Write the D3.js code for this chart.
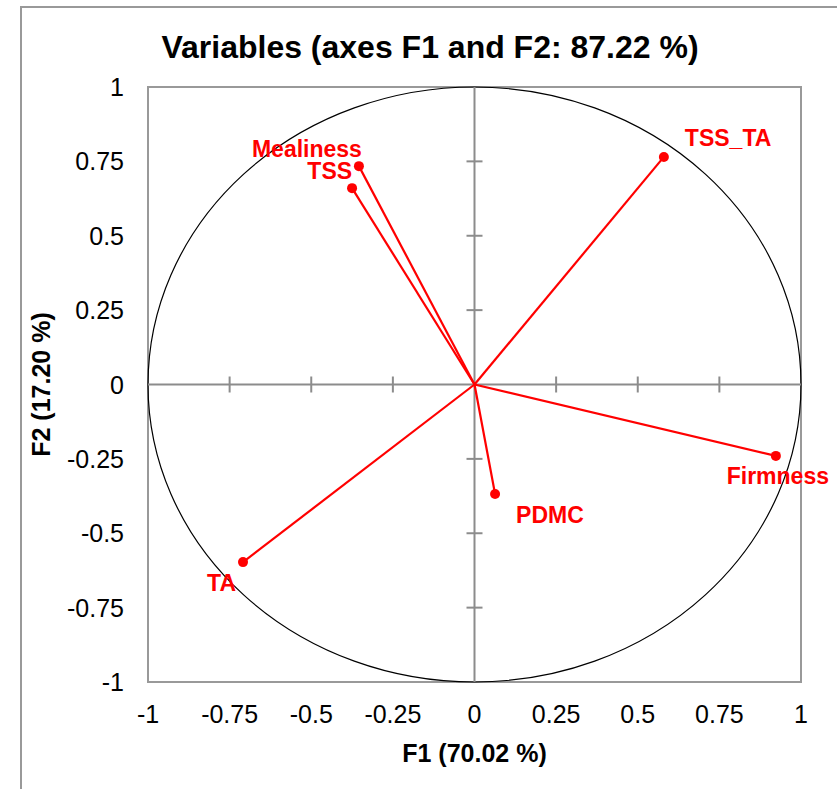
<!DOCTYPE html>
<html>
<head>
<meta charset="utf-8">
<script src="https://cdn.jsdelivr.net/npm/d3@7"></script>
<style>
  body { margin: 0; background: #fff; }
  svg { display: block; font-family: "Liberation Sans", Arial, sans-serif; }
  .frame { fill: none; stroke: #999; stroke-width: 2; }
  .axis-line { stroke: #8c8c8c; stroke-width: 2; }
  .circle { fill: none; stroke: #000; stroke-width: 1.2; }
  .vec { stroke: #ff0000; stroke-width: 2.2; }
  .pt { fill: #ff0000; }
  .lbl { fill: #ff0000; font-weight: bold; font-size: 23px; }
  .tick { font-size: 25px; fill: #000; }
</style>
</head>
<body>
<div id="chart"></div>
<script>
const variables = ["Mealiness", "TSS", "TSS_TA", "Firmness", "PDMC", "TA"]
const f1 = [-0.354, -0.375, 0.580, 0.923, 0.063, -0.709]
const f2 = [0.734, 0.660, 0.765, -0.240, -0.368, -0.597]
const tickValues = [-1, -0.75, -0.5, -0.25, 0, 0.25, 0.5, 0.75, 1]

const titleText = "Variables (axes F1 and F2: 87.22 %)"
const xTitle = "F1 (70.02 %)"
const yTitle = "F2 (17.20 %)"

// label placement relative to each point (pixels)
const labelPos = {
  Mealiness: { dx: 3, dy: -9, anchor: "end" },
  TSS: { dx: 0, dy: -9, anchor: "end" },
  TSS_TA: { dx: 21, dy: -11, anchor: "start" },
  Firmness: { dx: 2, dy: 28, anchor: "middle" },
  PDMC: { dx: 21, dy: 29, anchor: "start" },
  TA: { dx: -7, dy: 29, anchor: "end" }
}

const W = 837, H = 789
const margin = { top: 87, right: 36, bottom: 107, left: 148 }
const width = W - margin.left - margin.right
const height = H - margin.top - margin.bottom

const x = d3.scaleLinear().domain([-1, 1]).range([0, width])
const y = d3.scaleLinear().domain([-1, 1]).range([height, 0])

const data = variables.map((name, i) => ({ name, f1: f1[i], f2: f2[i] }))

const root = d3.select("#chart").append("svg")
  .attr("width", W)
  .attr("height", H)

root.append("rect").attr("width", W).attr("height", H).attr("fill", "#fff")

// outer chart frame
root.append("path")
  .attr("class", "frame")
  .attr("d", "M21," + H + "V7H" + W)

root.append("text")
  .attr("x", 430)
  .attr("y", 58)
  .attr("text-anchor", "middle")
  .style("font-size", "32px")
  .style("font-weight", "bold")
  .text(titleText)

const svg = root.append("g")
  .attr("transform", "translate(" + margin.left + "," + margin.top + ")")

// plot border
svg.append("rect")
  .attr("class", "frame")
  .attr("width", width)
  .attr("height", height)

// correlation circle
svg.append("ellipse")
  .attr("class", "circle")
  .attr("cx", x(0))
  .attr("cy", y(0))
  .attr("rx", x(1) - x(0))
  .attr("ry", y(0) - y(1))

// central axes
svg.append("line").attr("class", "axis-line")
  .attr("x1", 0).attr("x2", width).attr("y1", y(0)).attr("y2", y(0))
svg.append("line").attr("class", "axis-line")
  .attr("x1", x(0)).attr("x2", x(0)).attr("y1", 0).attr("y2", height)

const inner = tickValues.filter(v => v !== 0 && Math.abs(v) !== 1)
svg.selectAll(".xt").data(inner).join("line")
  .attr("class", "axis-line xt")
  .attr("x1", d => x(d)).attr("x2", d => x(d))
  .attr("y1", y(0) - 8).attr("y2", y(0) + 8)
svg.selectAll(".yt").data(inner).join("line")
  .attr("class", "axis-line yt")
  .attr("y1", d => y(d)).attr("y2", d => y(d))
  .attr("x1", x(0) - 8).attr("x2", x(0) + 8)

// tick labels
svg.selectAll(".xl").data(tickValues).join("text")
  .attr("class", "tick xl")
  .attr("x", d => x(d))
  .attr("y", height + 41)
  .attr("text-anchor", "middle")
  .text(d => String(d))
svg.selectAll(".yl").data(tickValues).join("text")
  .attr("class", "tick yl")
  .attr("x", -24)
  .attr("y", d => y(d) + 9)
  .attr("text-anchor", "end")
  .text(d => String(d))

// axis titles
svg.append("text")
  .attr("x", x(0))
  .attr("y", height + 80)
  .attr("text-anchor", "middle")
  .style("font-size", "25px")
  .style("font-weight", "bold")
  .text(xTitle)
svg.append("text")
  .attr("transform", "translate(" + (50 - margin.left) + "," + y(0) + ") rotate(-90)")
  .attr("text-anchor", "middle")
  .style("font-size", "25px")
  .style("font-weight", "bold")
  .text(yTitle)

// vectors
svg.selectAll(".vec").data(data).join("line")
  .attr("class", "vec")
  .attr("x1", x(0)).attr("y1", y(0))
  .attr("x2", d => x(d.f1)).attr("y2", d => y(d.f2))
svg.selectAll(".pt").data(data).join("circle")
  .attr("class", "pt")
  .attr("cx", d => x(d.f1)).attr("cy", d => y(d.f2))
  .attr("r", 5)
svg.selectAll(".lbl").data(data).join("text")
  .attr("class", "lbl")
  .attr("x", d => x(d.f1) + labelPos[d.name].dx)
  .attr("y", d => y(d.f2) + labelPos[d.name].dy)
  .attr("text-anchor", d => labelPos[d.name].anchor)
  .text(d => d.name)
</script>
</body>
</html>
